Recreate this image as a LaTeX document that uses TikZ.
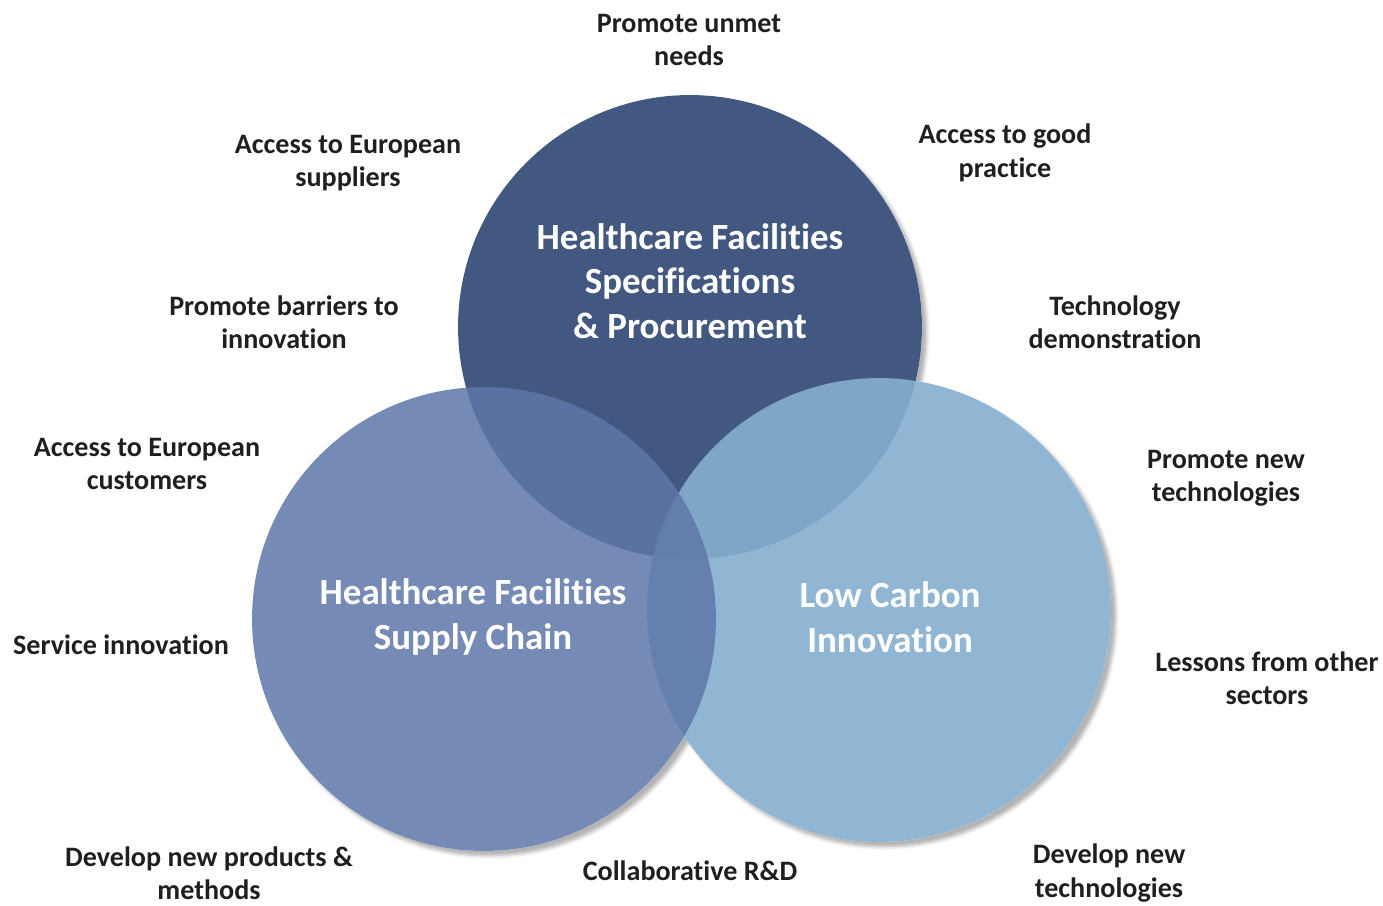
\documentclass[tikz,border=0pt]{standalone}
\usepackage{fontspec}
\setmainfont{Carlito}[Ligatures=NoCommon]
\usetikzlibrary{positioning, shadows.blur}

\definecolor{TopBlue}{RGB}{67,88,128}
\definecolor{LeftBlue}{RGB}{94,119,169}
\definecolor{RightBlue}{RGB}{134,175,207}

\pgfdeclarelayer{background}
\pgfsetlayers{background,main}

\begin{document}
\begin{tikzpicture}[
	x=0.02cm, y=-0.02cm,
	BigCircle/.style={circle, minimum size=9.28cm, inner sep=0pt},
	InnerText/.style={text=white, font=\fontsize{21}{25.5}\selectfont\bfseries, align=center},
	OuterText/.style={text=black!88, font=\fontsize{16}{19}\selectfont\bfseries, align=center}
	]
\useasboundingbox (0,0) rectangle (1383,906);

% the three circles (left one lies over the right one)
\node [BigCircle, fill=TopBlue] (spec) at (690,327) {};
\node [BigCircle, fill=RightBlue, fill opacity=0.9] (carbon) at (879,610) {};
\node [BigCircle, fill=LeftBlue, fill opacity=0.85] (supply) at (484,619) {};

% soft shadows, kept outside the circles
\begin{pgfonlayer}{background}
\foreach \c in {spec, carbon, supply}
	\path [blur shadow={shadow xshift=0.1cm, shadow yshift=-0.1cm, shadow opacity=30}]
		(\c.center) circle (4.64cm);
\foreach \c in {spec, carbon, supply}
	\fill [white] (\c.center) circle (4.64cm);
\end{pgfonlayer}

\node [InnerText] (specText) at (690,281) {Healthcare Facilities\\Specifications\\\& Procurement};
\node [InnerText] (supplyText) at (473,617) {Healthcare Facilities\\Supply Chain};
\node [InnerText] (carbonText) at (890,617) {Low Carbon\\Innovation};

% benefits around
\node [OuterText] (unmet) at (689,40) {Promote unmet\\needs};
\node [OuterText] (suppliers) at (348,163) {Access to European\\suppliers};
\node [OuterText] (practice) at (1005,153) {Access to good\\practice};
\node [OuterText] (barriers) at (284,322) {Promote barriers to\\innovation};
\node [OuterText] (demo) at (1115,322) {Technology\\demonstration};
\node [OuterText] (customers) at (147,464) {Access to European\\customers};
\node [OuterText] (promoteTech) at (1226,478) {Promote new\\technologies};
\node [OuterText] (service) at (121,645) {Service innovation};
\node [OuterText] (lessons) at (1267,678) {Lessons from other\\sectors};
\node [OuterText] (products) at (209,873) {Develop new products \&\\methods};
\node [OuterText] (rnd) at (690,871) {Collaborative R\&D};
\node [OuterText] (developTech) at (1109,873) {Develop new\\technologies};

\end{tikzpicture}
\end{document}
